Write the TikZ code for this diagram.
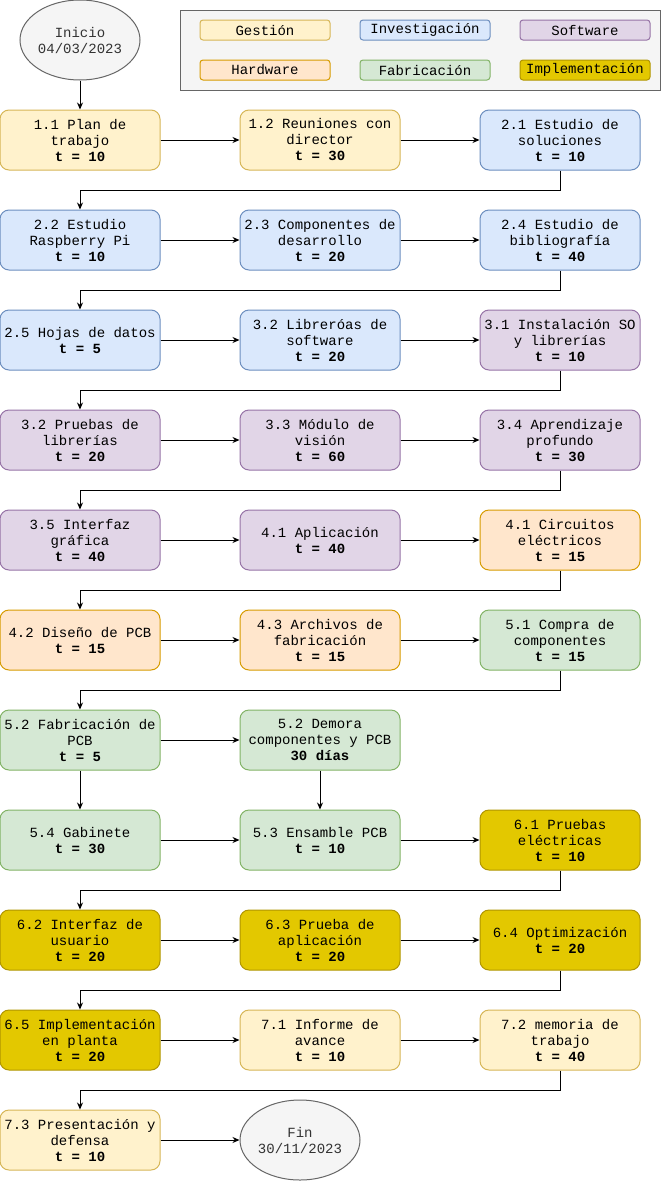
\documentclass[tikz,border=0pt]{standalone}
\usepackage{fontspec}
\setmainfont{Liberation Mono}
\setmonofont{Liberation Mono}
\usetikzlibrary{arrows.meta,shapes.geometric}
\definecolor{GestFill}{HTML}{FFF2CC}
\definecolor{GestDraw}{HTML}{D6B656}
\definecolor{InvFill}{HTML}{DAE8FC}
\definecolor{InvDraw}{HTML}{6C8EBF}
\definecolor{SoftFill}{HTML}{E1D5E7}
\definecolor{SoftDraw}{HTML}{9673A6}
\definecolor{HardFill}{HTML}{FFE6CC}
\definecolor{HardDraw}{HTML}{D79B00}
\definecolor{FabFill}{HTML}{D5E8D4}
\definecolor{FabDraw}{HTML}{82B366}
\definecolor{ImplFill}{HTML}{E3C800}
\definecolor{ImplDraw}{HTML}{B09500}
\definecolor{TermFill}{HTML}{F5F5F5}
\definecolor{TermDraw}{HTML}{666666}
\definecolor{TermText}{HTML}{333333}
\newcommand{\tlabel}{\ttfamily\fontsize{14}{16}\selectfont}

\begin{document}
\begin{tikzpicture}[x=1pt,y=-1pt,
  task/.style={rectangle,rounded corners=9pt,minimum width=160pt,minimum height=60pt,
               align=center,inner sep=1pt,font=\tlabel,line width=1pt},
  gest/.style={task,fill=GestFill,draw=GestDraw},
  inv/.style={task,fill=InvFill,draw=InvDraw},
  soft/.style={task,fill=SoftFill,draw=SoftDraw},
  hard/.style={task,fill=HardFill,draw=HardDraw},
  fab/.style={task,fill=FabFill,draw=FabDraw},
  impl/.style={task,fill=ImplFill,draw=ImplDraw},
  term/.style={ellipse,draw=TermDraw,fill=TermFill,text=TermText,minimum width=120pt,
               minimum height=80pt,inner sep=0pt,align=center,font=\tlabel,line width=1pt},
  legbox/.style={rectangle,draw=TermDraw,fill=TermFill,minimum width=480pt,
                 minimum height=80pt,line width=1pt},
  legitem/.style={rectangle,rounded corners=3pt,minimum width=130pt,minimum height=20pt,
                  inner sep=0pt,font=\tlabel,line width=1pt},
  flow/.style={-{Stealth[length=7pt,width=6pt]},line width=1pt},
]
\useasboundingbox (0,0) rectangle (661,1181);

%% Legend
\node[legbox] (leyenda) at (420,50) {};
\node[legitem,fill=GestFill,draw=GestDraw] (lgest) at (265,30) {Gestión};
\node[legitem,fill=InvFill,draw=InvDraw]   (linv)  at (425,30) {Investigación};
\node[legitem,fill=SoftFill,draw=SoftDraw] (lsoft) at (585,30) {Software};
\node[legitem,fill=HardFill,draw=HardDraw] (lhard) at (265,70) {Hardware};
\node[legitem,fill=FabFill,draw=FabDraw]   (lfab)  at (425,70) {Fabricación};
\node[legitem,fill=ImplFill,draw=ImplDraw] (limpl) at (585,70) {Implementación};

%% Tasks
\node[term] (inicio) at (80,40) {Inicio\\04/03/2023};

\node[gest] (plan)       at (80,140)  {1.1 Plan de\\trabajo\\\textbf{t = 10}};
\node[gest] (reuniones)  at (320,140) {1.2 Reuniones con\\director\\\textbf{t = 30}};
\node[inv]  (soluciones) at (560,140) {2.1 Estudio de\\soluciones\\\textbf{t = 10}};

\node[inv] (raspberry)    at (80,240)  {2.2 Estudio\\Raspberry Pi\\\textbf{t = 10}};
\node[inv] (componentes)  at (320,240) {2.3 Componentes de\\desarrollo\\\textbf{t = 20}};
\node[inv] (bibliografia) at (560,240) {2.4 Estudio de\\bibliografía\\\textbf{t = 40}};

\node[inv]  (hojas)       at (80,340)  {2.5 Hojas de datos\\\textbf{t = 5}};
\node[inv]  (librerias)   at (320,340) {3.2 Libreróas de\\software\\\textbf{t = 20}};
\node[soft] (instalacion) at (560,340) {3.1 Instalación SO\\y librerías\\\textbf{t = 10}};

\node[soft] (pruebaslib)  at (80,440)  {3.2 Pruebas de\\librerías\\\textbf{t = 20}};
\node[soft] (vision)      at (320,440) {3.3 Módulo de\\visión\\\textbf{t = 60}};
\node[soft] (aprendizaje) at (560,440) {3.4 Aprendizaje\\profundo\\\textbf{t = 30}};

\node[soft] (interfaz)   at (80,540)  {3.5 Interfaz\\gráfica\\\textbf{t = 40}};
\node[soft] (aplicacion) at (320,540) {4.1 Aplicación\\\textbf{t = 40}};
\node[hard] (circuitos)  at (560,540) {4.1 Circuitos\\eléctricos\\\textbf{t = 15}};

\node[hard] (disenopcb) at (80,640)  {4.2 Diseño de PCB\\\textbf{t = 15}};
\node[hard] (archivos)  at (320,640) {4.3 Archivos de\\fabricación\\\textbf{t = 15}};
\node[fab]  (compra)    at (560,640) {5.1 Compra de\\componentes\\\textbf{t = 15}};

\node[fab] (fabpcb) at (80,740)  {5.2 Fabricación de\\PCB\\\textbf{t = 5}};
\node[fab] (demora) at (320,740) {5.2 Demora\\componentes y PCB\\\textbf{30 días}};

\node[fab]  (gabinete)    at (80,840)  {5.4 Gabinete\\\textbf{t = 30}};
\node[fab]  (ensamble)    at (320,840) {5.3 Ensamble PCB\\\textbf{t = 10}};
\node[impl] (pruebaselec) at (560,840) {6.1 Pruebas\\eléctricas\\\textbf{t = 10}};

\node[impl] (interfazus)   at (80,940)  {6.2 Interfaz de\\usuario\\\textbf{t = 20}};
\node[impl] (pruebaapp)    at (320,940) {6.3 Prueba de\\aplicación\\\textbf{t = 20}};
\node[impl] (optimizacion) at (560,940) {6.4 Optimización\\\textbf{t = 20}};

\node[impl] (planta)  at (80,1040)  {6.5 Implementación\\en planta\\\textbf{t = 20}};
\node[gest] (informe) at (320,1040) {7.1 Informe de\\avance\\\textbf{t = 10}};
\node[gest] (memoria) at (560,1040) {7.2 memoria de\\trabajo\\\textbf{t = 40}};

\node[gest] (defensa) at (80,1140)  {7.3 Presentación y\\defensa\\\textbf{t = 10}};
\node[term] (fin)     at (300,1140) {Fin\\30/11/2023};

%% Connectors
\foreach \a/\b in {inicio/plan,plan/reuniones,reuniones/soluciones,
                   raspberry/componentes,componentes/bibliografia,
                   hojas/librerias,librerias/instalacion,
                   pruebaslib/vision,vision/aprendizaje,
                   interfaz/aplicacion,aplicacion/circuitos,
                   disenopcb/archivos,archivos/compra,
                   fabpcb/demora,fabpcb/gabinete,demora/ensamble,
                   gabinete/ensamble,ensamble/pruebaselec,
                   interfazus/pruebaapp,pruebaapp/optimizacion,
                   planta/informe,informe/memoria,defensa/fin}
  \draw[flow] (\a) -- (\b);
\foreach \a/\b in {soluciones/raspberry,bibliografia/hojas,instalacion/pruebaslib,
                   aprendizaje/interfaz,circuitos/disenopcb,compra/fabpcb,
                   pruebaselec/interfazus,optimizacion/planta,memoria/defensa}
  \draw[flow] (\a.south) -- ++(0,20) -| (\b.north);

\end{tikzpicture}
\end{document}
